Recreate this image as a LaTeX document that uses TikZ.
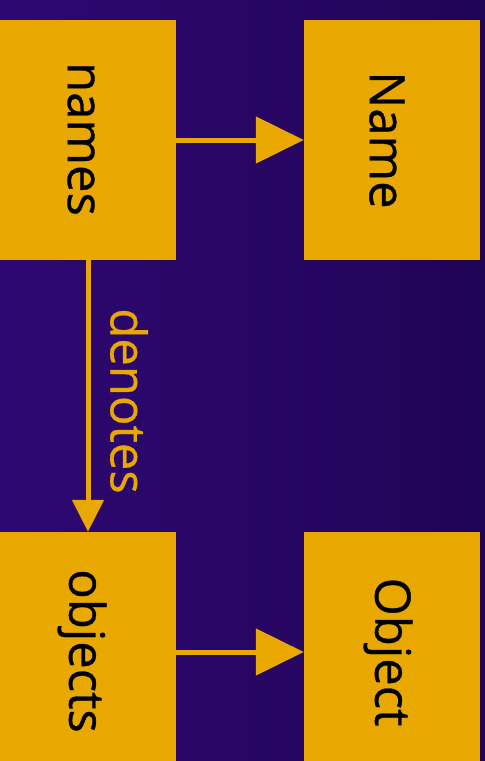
\documentclass[tikz,border=0pt]{standalone}
\usepackage{fontspec}
\setmainfont{Open Sans}
\newfontfamily\lblfont[FakeBold=0.6]{Open Sans}
\usetikzlibrary{arrows.meta}
\definecolor{gold}{RGB}{232,168,0}
\definecolor{bgleft}{RGB}{46,8,114}
\definecolor{bgright}{RGB}{32,4,86}
\tikzset{
  box/.style={fill=gold, draw=none, minimum width=176pt, minimum height=240pt, inner sep=0pt},
  lbl/.style={rotate=-90, font=\lblfont\fontsize{49}{52}\selectfont, text=black, inner sep=0pt},
  conn/.style={draw=gold, line width=5pt},
}
\begin{document}
\begin{tikzpicture}[x=1pt,y=-1pt]
\shade[left color=bgleft, right color=bgright] (0,0) rectangle (485,761);
\useasboundingbox (0,0) rectangle (485,761);
\begin{scope}
\clip (0,0) rectangle (485,761);
\node[box] (names) at (88,140) {};
\node[box] (Name) at (392,140) {};
\node[box] (objects) at (88,652) {};
\node[box] (Object) at (392,652) {};
\end{scope}
\node[lbl] (tnames) at (81,139) {names};
\node[lbl] (tName) at (387,140) {Name};
\node[lbl] (tobjects) at (82,651) {objects};
\node[lbl] (tObject) at (388,652) {Object};
\draw[conn, -{Triangle[length=48pt,width=46pt]}] (names.east) -- (Name.west);
\draw[conn, -{Triangle[length=48pt,width=46pt]}] (objects.east) -- (Object.west);
\draw[conn, -{Triangle[length=32pt,width=31pt]}] (names.south) -- (objects.north);
\node[lbl, text=gold] (tdenotes) at (129,401) {denotes};
\end{tikzpicture}
\end{document}
